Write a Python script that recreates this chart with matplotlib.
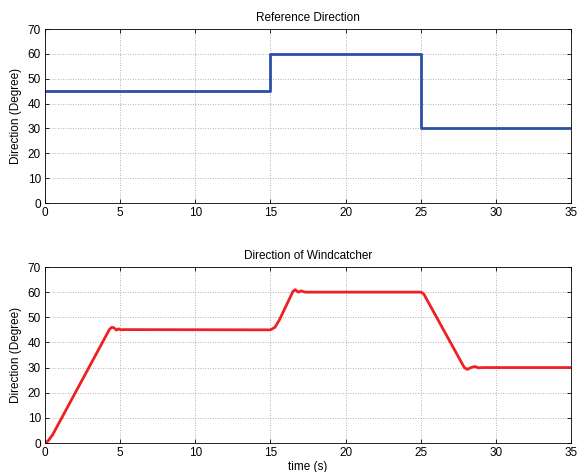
import matplotlib
matplotlib.use('Agg')
import matplotlib.pyplot as plt

plt.rcParams['font.family'] = ['Liberation Sans', 'DejaVu Sans']
plt.rcParams['font.size'] = 8.5

# Reference direction (step signal)
ref_t = [0, 15, 15, 25, 25, 35]
ref_deg = [45, 45, 60, 60, 30, 30]

# Windcatcher direction
wc_t = [0, 0.2, 0.5, 4.3, 4.45, 4.6, 4.75, 4.9, 5.05, 5.2, 15.0, 15.3, 15.6,
        16.5, 16.65, 16.85, 17.05, 17.3, 25.0, 25.2, 27.9, 28.1, 28.35, 28.6,
        28.85, 29.1, 35]
wc_deg = [0, 0.8, 3.2, 45.3, 46.0, 45.8, 44.9, 45.4, 45.0, 45.1, 45.0, 46.0, 49.0,
          60.3, 61.0, 60.0, 60.5, 60.0, 60.0, 59.3, 30.0, 29.3, 30.0, 30.4,
          29.9, 30.0, 30.0]

fig = plt.figure(figsize=(5.85, 4.72), dpi=100)
ax1 = fig.add_axes([45/585, 1 - 203/472, 526/585, 174/472])
ax2 = fig.add_axes([45/585, 1 - 443/472, 526/585, 176/472])

ax1.plot(ref_t, ref_deg, color='#2b4fa6', linewidth=2.0)
ax1.set_title('Reference Direction', fontsize=8.5, pad=6)

ax2.plot(wc_t, wc_deg, color='#ee2024', linewidth=2.0)
ax2.set_title('Direction of Windcatcher', fontsize=8.5, pad=6)
ax2.set_xlabel('time (s)', labelpad=1)

for ax in (ax1, ax2):
    ax.set_xlim(0, 35)
    ax.set_ylim(0, 70)
    ax.set_xticks(range(0, 36, 5))
    ax.set_yticks(range(0, 71, 10))
    ax.set_ylabel('Direction (Degree)', labelpad=4)
    ax.grid(True, linestyle=(0, (1, 2)), color='#999999', linewidth=0.6)
    ax.tick_params(direction='in', length=3, width=0.6, top=True, right=True, pad=3)
    for s in ax.spines.values():
        s.set_linewidth(0.6)

fig.savefig('out.png', dpi=100)
